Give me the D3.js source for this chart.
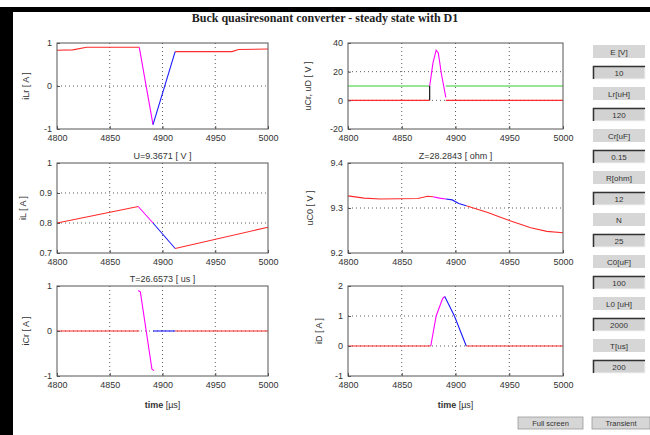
<!DOCTYPE html>
<html>
<head>
<meta charset="utf-8">
<script src="https://cdn.jsdelivr.net/npm/d3@7"></script>
<style>
  body { margin: 0; background: #fff; }
  text { font-family: "Liberation Sans", Arial, sans-serif; }
</style>
</head>
<body>
<svg width="650" height="435"></svg>
<script>
// time axis (us)
const xTicks = [4800, 4850, 4900, 4950, 5000];

// top left: iLr [A]
const iLrRed1 = [[4800, 0.83], [4815, 0.84], [4828, 0.9], [4878, 0.9]];
const iLrMag = [[4878, 0.9], [4891, -0.9]];
const iLrBlue = [[4891, -0.9], [4912, 0.8]];
const iLrRed2 = [[4912, 0.8], [4966, 0.8], [4972, 0.85], [5000, 0.86]];

// top right: uCr, uD [V]
const uGreen1 = [[4800, 10], [4876, 10]];
const uGreen2 = [[4891, 10], [5000, 10]];
const uRed1 = [[4800, 0], [4876, 0]];
const uRed2 = [[4891, 0], [5000, 0]];
const uBlack = [[4876, 0], [4876, 10]];
const uMag = [[4876, 10], [4879, 26], [4882, 35], [4884, 33], [4887, 18], [4891, 2]];

// middle left: iL [A]
const iLRed1 = [[4800, 0.8], [4877, 0.855]];
const iLMag = [[4877, 0.855], [4891, 0.8]];
const iLBlue = [[4891, 0.8], [4912, 0.715]];
const iLRed2 = [[4912, 0.715], [5000, 0.786]];

// middle right: uC0 [V]
const uC0Red1 = [[4800, 9.327], [4815, 9.322], [4830, 9.32], [4865, 9.321], [4874, 9.326], [4879, 9.325]];
const uC0Mag = [[4879, 9.325], [4885, 9.322], [4891, 9.32]];
const uC0Blue = [[4891, 9.32], [4897, 9.318], [4903, 9.31], [4910, 9.305]];
const uC0Red2 = [[4910, 9.305], [4930, 9.29], [4950, 9.272], [4970, 9.256], [4985, 9.248], [5000, 9.245]];

// bottom left: iCr [A]
const iCrRed1 = [[4800, 0], [4878, 0]];
const iCrMag = [[4877, 0.9], [4879, 0.87], [4890, -0.85], [4892, -0.88]];
const iCrBlue = [[4891, 0], [4912, 0]];
const iCrRed2 = [[4912, 0], [5000, 0]];

// bottom right: iD [A]
const iDRed1 = [[4800, 0], [4877, 0]];
const iDMag = [[4877, 0], [4882, 1], [4888, 1.58], [4890, 1.65]];
const iDBlue = [[4890, 1.65], [4899, 1], [4910, 0]];
const iDRed2 = [[4910, 0], [5000, 0]];

// side panel
const panelLabels = ["E [V]", "Lr[uH]", "Cr[uF]", "R[ohm]", "N", "C0[uF]", "L0 [uH]", "T[us]"];
const panelValues = ["10", "120", "0.15", "12", "25", "100", "2000", "200"];
const buttons = ["Full screen", "Transient"];

const RED = "#ff2a2a", MAG = "#ff00ff", BLUE = "#1a1aff", GREEN = "#33cc33", BLACK = "#000";

const panels = [
  { x0: 57, x1: 268, y0: 43, y1: 129, dom: [-1, 1], ticks: [-1, 0, 1], ylab: "iLr [ A ]", labOff: 28,
    series: [[iLrRed1, RED], [iLrRed2, RED], [iLrMag, MAG], [iLrBlue, BLUE]] },
  { x0: 348, x1: 563, y0: 43, y1: 129, dom: [-20, 40], ticks: [-20, 0, 20, 40], ylab: "uCr, uD [ V ]", labOff: 37,
    series: [[uGreen1, GREEN], [uGreen2, GREEN], [uRed1, RED], [uRed2, RED], [uBlack, BLACK], [uMag, MAG]] },
  { x0: 57, x1: 268, y0: 163, y1: 253, dom: [0.7, 1], ticks: [0.7, 0.8, 0.9, 1], ylab: "iL [ A ]", labOff: 31,
    title: "U=9.3671 [ V ]",
    series: [[iLRed1, RED], [iLRed2, RED], [iLMag, MAG], [iLBlue, BLUE]] },
  { x0: 348, x1: 563, y0: 163, y1: 253, dom: [9.2, 9.4], ticks: [9.2, 9.3, 9.4], ylab: "uC0 [ V ]", labOff: 35,
    title: "Z=28.2843 [ ohm ]",
    series: [[uC0Red1, RED], [uC0Red2, RED], [uC0Mag, MAG], [uC0Blue, BLUE]] },
  { x0: 57, x1: 268, y0: 286, y1: 376, dom: [-1, 1], ticks: [-1, 0, 1], ylab: "iCr [ A ]", labOff: 28,
    title: "T=26.6573 [ us ]", xlab: true,
    series: [[iCrRed1, RED], [iCrRed2, RED], [iCrBlue, BLUE], [iCrMag, MAG]] },
  { x0: 348, x1: 563, y0: 286, y1: 376, dom: [-1, 2], ticks: [-1, 0, 1, 2], ylab: "iD [ A ]", labOff: 26,
    xlab: true,
    series: [[iDRed1, RED], [iDRed2, RED], [iDMag, MAG], [iDBlue, BLUE]] }
];

const svg = d3.select("svg");

svg.append("rect").attr("width", 650).attr("height", 435).attr("fill", "#fff");
// black frame pieces
svg.append("rect").attr("x", 0).attr("y", 7).attr("width", 650).attr("height", 5).attr("fill", "#000");
svg.append("rect").attr("x", 0).attr("y", 7).attr("width", 13).attr("height", 428).attr("fill", "#000");

svg.append("text")
  .attr("x", 325).attr("y", 22)
  .attr("text-anchor", "middle")
  .style("font-family", "'Liberation Serif', 'Times New Roman', serif")
  .style("font-size", "12px")
  .style("font-weight", "bold")
  .attr("fill", "#222")
  .text("Buck quasiresonant converter - steady state  with D1");

panels.forEach(p => {
  const x = d3.scaleLinear().domain([4800, 5000]).range([p.x0, p.x1]);
  const y = d3.scaleLinear().domain(p.dom).range([p.y1, p.y0]);
  const g = svg.append("g");

  g.append("rect")
    .attr("x", p.x0).attr("y", p.y0)
    .attr("width", p.x1 - p.x0).attr("height", p.y1 - p.y0)
    .attr("fill", "#fff");

  // grid
  g.selectAll(".gx").data(xTicks.slice(1, -1)).join("line")
    .attr("x1", d => x(d)).attr("x2", d => x(d))
    .attr("y1", p.y0).attr("y2", p.y1)
    .attr("stroke", "#333").attr("stroke-width", 0.8).attr("stroke-dasharray", "1,3");
  g.selectAll(".gy").data(p.ticks.filter(t => t !== p.dom[0] && t !== p.dom[1])).join("line")
    .attr("y1", d => y(d)).attr("y2", d => y(d))
    .attr("x1", p.x0).attr("x2", p.x1)
    .attr("stroke", "#333").attr("stroke-width", 0.8).attr("stroke-dasharray", "1,3");

  const line = d3.line().x(d => x(d[0])).y(d => y(d[1]));
  p.series.forEach(([data, col]) => {
    g.append("path").datum(data)
      .attr("d", line)
      .attr("fill", "none")
      .attr("stroke", col)
      .attr("stroke-width", 1.1);
  });

  const xa = g.append("g").attr("transform", `translate(0,${p.y1})`)
    .call(d3.axisBottom(x).tickValues(xTicks).tickSizeInner(-3).tickSizeOuter(0).tickPadding(6).tickFormat(d3.format("d")));
  const ya = g.append("g").attr("transform", `translate(${p.x0},0)`)
    .call(d3.axisLeft(y).tickValues(p.ticks).tickSizeInner(-3).tickSizeOuter(0).tickPadding(5).tickFormat(d => String(d)));
  [xa, ya].forEach(a => {
    a.select(".domain").remove();
    a.selectAll("line").attr("stroke", "#555");
    a.selectAll("text").style("font-size", "9px").attr("fill", "#333");
  });

  g.append("rect")
    .attr("x", p.x0).attr("y", p.y0)
    .attr("width", p.x1 - p.x0).attr("height", p.y1 - p.y0)
    .attr("fill", "none").attr("stroke", "#555").attr("stroke-width", 1);

  g.append("text")
    .attr("transform", `translate(${p.x0 - p.labOff},${(p.y0 + p.y1) / 2}) rotate(-90)`)
    .attr("text-anchor", "middle")
    .style("font-size", "9px").attr("fill", "#333")
    .text(p.ylab);

  if (p.title) {
    g.append("text")
      .attr("x", (p.x0 + p.x1) / 2).attr("y", p.y0 - 4)
      .attr("text-anchor", "middle")
      .style("font-size", "9px").attr("fill", "#333")
      .text(p.title);
  }
  if (p.xlab) {
    g.append("text")
      .attr("x", (p.x0 + p.x1) / 2).attr("y", p.y1 + 32)
      .attr("text-anchor", "middle")
      .style("font-size", "9px").attr("fill", "#333")
      .html('<tspan font-weight="bold">time</tspan>  [µs]');
  }
});

// parameter boxes
const bx = 593, bw = 52, bh = 13;
panelLabels.forEach((lab, i) => {
  const yl = 45 + i * 42, yv = yl + 21;
  svg.append("rect").attr("x", bx).attr("y", yl).attr("width", bw).attr("height", bh).attr("fill", "#d6d6d6");
  svg.append("text").attr("x", bx + bw / 2).attr("y", yl + 9.5).attr("text-anchor", "middle")
    .style("font-size", "8px").attr("fill", "#333").text(lab);

  svg.append("rect").attr("x", bx).attr("y", yv).attr("width", bw).attr("height", bh)
    .attr("fill", "#d2d2d2").attr("stroke", "#f4f4f4");
  svg.append("path").attr("d", `M${bx + 0.5},${yv + bh} V${yv + 0.5} H${bx + bw}`)
    .attr("fill", "none").attr("stroke", "#333").attr("stroke-width", 1.5);
  svg.append("text").attr("x", bx + bw / 2).attr("y", yv + 9.5).attr("text-anchor", "middle")
    .style("font-size", "8px").attr("fill", "#333").text(panelValues[i]);
});

// buttons
const btnX = [518, 592], btnW = [65, 58];
buttons.forEach((b, i) => {
  svg.append("rect").attr("x", btnX[i]).attr("y", 417).attr("width", btnW[i]).attr("height", 12)
    .attr("fill", "#d6d6d6").attr("stroke", "#999").attr("stroke-width", 0.8);
  svg.append("text").attr("x", btnX[i] + btnW[i] / 2).attr("y", 426).attr("text-anchor", "middle")
    .style("font-size", "7.5px").attr("fill", "#333").text(b);
});
</script>
</body>
</html>
